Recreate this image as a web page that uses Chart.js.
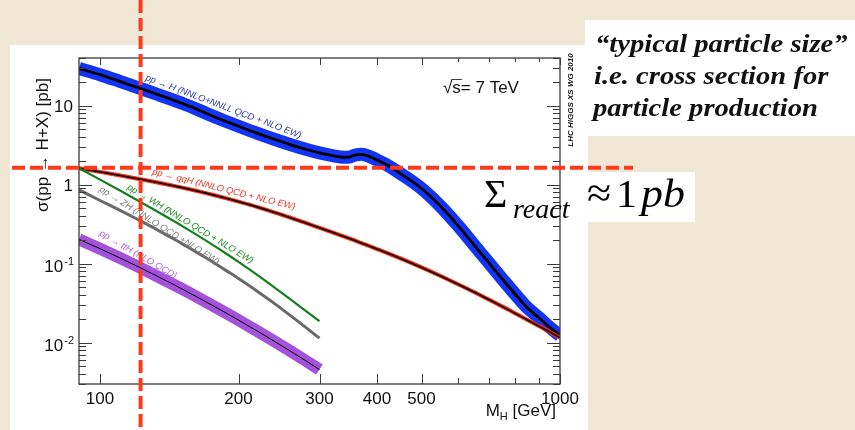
<!DOCTYPE html>
<html>
<head>
<meta charset="utf-8">
<script src="https://cdn.jsdelivr.net/npm/chart.js@4.4.0/dist/chart.umd.min.js"></script>
<style>
  html, body { margin: 0; padding: 0; background: #efe5d1; }
  canvas { display: block; }
</style>
</head>
<body>
<canvas id="xsChart" width="855" height="430"></canvas>
<script>
// SM Higgs production cross sections, sqrt(s) = 7 TeV, sigma in pb vs M_H in GeV
const massFull = [90, 100, 110, 120, 130, 140, 150, 160, 170, 180, 190, 200, 220, 240, 260, 280, 300,
  320, 340, 350, 360, 370, 380, 390, 400, 420, 450, 500, 550, 600, 650, 700, 750, 800, 850, 900, 950, 1000];
const massLow = [90, 100, 110, 120, 130, 140, 150, 160, 170, 180, 190, 200, 220, 240, 260, 280, 300];

const sigmaGGH = [29.5, 24.6, 20.4, 17.1, 14.6, 12.5, 10.8, 9.35, 8.0, 6.95, 6.15, 5.48, 4.45, 3.72, 3.19, 2.80, 2.52,
  2.33, 2.22, 2.25, 2.38, 2.42, 2.34, 2.20, 2.05, 1.78, 1.38, 0.893, 0.531, 0.303, 0.173, 0.1028, 0.0634, 0.0407,
  0.0275, 0.0207, 0.0156, 0.0123];
const sigmaQQH = [1.61, 1.450, 1.315, 1.198, 1.096, 1.005, 0.923, 0.848, 0.780, 0.718, 0.661, 0.609, 0.519, 0.443,
  0.379, 0.327, 0.284, 0.249, 0.219, 0.206, 0.194, 0.182, 0.172, 0.162, 0.153, 0.137, 0.1164, 0.0895, 0.0697,
  0.0549, 0.0438, 0.0352, 0.0286, 0.0234, 0.0194, 0.0162, 0.01364, 0.01158];
const sigmaWH = [1.61, 1.157, 0.854, 0.645, 0.496, 0.387, 0.305, 0.2433, 0.1956, 0.1581, 0.1287, 0.1054, 0.0716,
  0.0495, 0.035, 0.0253, 0.0187];
const sigmaZH = [0.860, 0.629, 0.479, 0.370, 0.290, 0.228, 0.182, 0.146, 0.1186, 0.0963, 0.0787, 0.0648, 0.0445,
  0.0310, 0.0218, 0.0156, 0.0114];
const sigmaTTH = [0.203, 0.1545, 0.1194, 0.0937, 0.0744, 0.0598, 0.0486, 0.0398, 0.0328, 0.02733, 0.02291, 0.01931,
  0.01397, 0.01031, 0.00774, 0.00591, 0.00457];

// axis labels
const xTickValues = [100, 200, 300, 400, 500, 1000];
const xTickLabels = ['100', '200', '300', '400', '500', '1000'];
const yTickValues = [0.01, 0.1, 1, 10];
const yTickLabels = ['10', '10', '1', '10'];
const yTickExponents = ['-2', '-1', '', ''];

// guide lines: light Higgs mass and ~1 pb reaction cross section
const markMass = 122.5;
const markSigma = 1.64;

const SANS = '"Liberation Sans", Arial, Helvetica, sans-serif';
const SERIF = '"Liberation Serif", "Times New Roman", serif';

// process labels written along the curves
const curveLabels = [
  { text: 'pp \u2192 H (NNLO+NNLL QCD + NLO EW)', m: 125.8, s: 22.6, angle: 20.6, color: '#2b3aa8' },
  { text: 'pp \u2192 qqH (NNLO QCD + NLO EW)', m: 130, s: 1.46, angle: 14, color: '#ee3322' },
  { text: 'pp \u2192 WH (NNLO QCD + NLO EW)', m: 115, s: 0.944, angle: 31, color: '#1f8c1f' },
  { text: 'pp \u2192 ZH (NNLO QCD +NLO EW)', m: 100, s: 0.89, angle: 32, color: '#7a7a7a' },
  { text: 'pp \u2192 ttH (NLO QCD)', m: 100, s: 0.246, angle: 30, color: '#b060e0' }
];

function points(masses, values) {
  return masses.map((m, i) => ({ x: m, y: values[i] }));
}

function curve(masses, values, color, width, order) {
  return {
    data: points(masses, values),
    borderColor: color,
    borderWidth: width,
    pointRadius: 0,
    cubicInterpolationMode: 'monotone',
    borderCapStyle: 'butt',
    borderJoinStyle: 'round',
    fill: false,
    clip: 0,
    order: order
  };
}

// text drawn slightly wider than the font's natural width
function wideText(ctx, text, x, y, sx) {
  ctx.save();
  ctx.translate(x, y);
  ctx.scale(sx, 1);
  ctx.fillText(text, 0, 0);
  ctx.restore();
}

// parchment backdrop and white panels
const paper = {
  id: 'paper',
  beforeDraw(chart) {
    const ctx = chart.ctx;
    ctx.save();
    ctx.fillStyle = '#efe6d3';
    ctx.fillRect(0, 0, chart.width, chart.height);
    ctx.fillStyle = '#ffffff';
    ctx.fillRect(10, 45, 578, 385);
    ctx.fillRect(585, 20, 270, 116);
    ctx.fillRect(585, 172, 110, 50);
    ctx.restore();
  }
};

// ROOT style frame with inward ticks, labels and texts
const axes = {
  id: 'axes',
  afterDatasetsDraw(chart) {
    const { ctx, chartArea: a, scales: { x, y } } = chart;
    ctx.save();

    ctx.strokeStyle = '#3a3a3a';
    ctx.lineWidth = 1.3;
    ctx.strokeRect(a.left, a.top, a.right - a.left, a.bottom - a.top);

    ctx.lineWidth = 1;
    ctx.beginPath();
    for (let e = -3; e <= 1; e++) {
      for (let k = 1; k <= 9; k++) {
        const v = k * Math.pow(10, e);
        if (v < y.min || v > y.max) continue;
        const py = Math.round(y.getPixelForValue(v)) + 0.5;
        const len = k === 1 ? 13 : 7;
        ctx.moveTo(a.left, py); ctx.lineTo(a.left + len, py);
        ctx.moveTo(a.right, py); ctx.lineTo(a.right - len, py);
      }
    }
    for (let m = 100; m <= 1000; m += 100) {
      const px = Math.round(x.getPixelForValue(m)) + 0.5;
      const len = (m <= 500 || m === 1000) ? 10 : 6;
      ctx.moveTo(px, a.bottom); ctx.lineTo(px, a.bottom - len);
      ctx.moveTo(px, a.top); ctx.lineTo(px, a.top + Math.round(len * 0.7));
    }
    ctx.stroke();

    // tick labels
    ctx.fillStyle = '#111';
    ctx.font = '17px ' + SANS;
    ctx.textAlign = 'center';
    ctx.textBaseline = 'alphabetic';
    xTickValues.forEach((v, i) => {
      ctx.fillText(xTickLabels[i], x.getPixelForValue(v), 403.5);
    });
    yTickValues.forEach((v, i) => {
      const py = y.getPixelForValue(v);
      const exp = yTickExponents[i];
      ctx.font = '11px ' + SANS;
      const expW = exp ? ctx.measureText(exp).width : 0;
      ctx.textAlign = 'right';
      if (exp) ctx.fillText(exp, a.left - 5, py + 1);
      ctx.font = '17px ' + SANS;
      ctx.fillText(yTickLabels[i], a.left - 6 - expW, py + (exp ? 8 : 6));
    });

    // axis titles
    ctx.save();
    ctx.translate(43, 145);
    ctx.rotate(-Math.PI / 2);
    ctx.textAlign = 'center';
    ctx.textBaseline = 'middle';
    ctx.font = '17px ' + SANS;
    ctx.fillText('\u03c3(pp \u2192 H+X) [pb]', 0, 0);
    ctx.restore();

    ctx.textAlign = 'left';
    ctx.font = '17px ' + SANS;
    const tail = ' [GeV]';
    const tailW = ctx.measureText(tail).width;
    const mW = ctx.measureText('M').width;
    ctx.font = '11px ' + SANS;
    const hW = ctx.measureText('H').width;
    const tx = 556 - tailW - hW - mW;
    ctx.font = '17px ' + SANS;
    ctx.fillText('M', tx, 416);
    ctx.font = '11px ' + SANS;
    ctx.fillText('H', tx + mW, 420);
    ctx.font = '17px ' + SANS;
    ctx.fillText(tail, tx + mW + hW, 416);

    // sqrt(s) = 7 TeV
    ctx.font = '17px ' + SANS;
    const rootW = ctx.measureText('\u221a').width;
    const sW = ctx.measureText('s').width;
    ctx.fillText('\u221as= 7 TeV', 443, 93);
    ctx.beginPath();
    ctx.lineWidth = 1;
    ctx.moveTo(443 + rootW - 1, 79.5);
    ctx.lineTo(443 + rootW + sW + 1, 79.5);
    ctx.stroke();

    // working group tag
    ctx.save();
    ctx.translate(571, 100);
    ctx.rotate(-Math.PI / 2);
    ctx.textAlign = 'center';
    ctx.textBaseline = 'middle';
    ctx.font = 'italic bold 8px ' + SANS;
    ctx.fillText('LHC HIGGS XS WG 2010', 0, 0);
    ctx.restore();

    // process labels
    ctx.font = 'italic 9.3px ' + SANS;
    ctx.textAlign = 'left';
    ctx.textBaseline = 'middle';
    curveLabels.forEach(l => {
      ctx.save();
      ctx.translate(x.getPixelForValue(l.m), y.getPixelForValue(l.s));
      ctx.rotate(l.angle * Math.PI / 180);
      ctx.fillStyle = l.color;
      ctx.fillText(l.text, 0, 0);
      ctx.restore();
    });

    ctx.restore();
  },
  afterDraw(chart) {
    const { ctx, scales: { x, y } } = chart;
    ctx.save();
    ctx.fillStyle = '#111';
    ctx.textBaseline = 'alphabetic';
    ctx.textAlign = 'left';

    // side notes
    ctx.font = 'italic bold 26px ' + SERIF;
    wideText(ctx, '\u201ctypical particle size\u201d', 595, 52, 1.1);
    wideText(ctx, 'i.e. cross section for', 594, 84, 1.1);
    wideText(ctx, 'particle production', 593, 116, 1.1);

    ctx.fillStyle = '#000';
    ctx.font = '40px ' + SERIF;
    ctx.fillText('\u03a3', 484, 207);
    ctx.font = 'italic 28px ' + SERIF;
    ctx.fillText('react', 513, 218);
    ctx.font = '42px ' + SERIF;
    wideText(ctx, '\u2248', 587, 207, 1.05);
    ctx.font = '40px ' + SERIF;
    wideText(ctx, '1', 616, 207, 1.05);
    ctx.font = 'italic 40px ' + SERIF;
    wideText(ctx, 'pb', 641, 207, 1.1);

    // dashed guides
    ctx.strokeStyle = '#ff3a1a';
    ctx.lineWidth = 4;
    ctx.setLineDash([13, 5]);
    const gy = y.getPixelForValue(markSigma);
    const gx = x.getPixelForValue(markMass);
    ctx.beginPath();
    ctx.moveTo(12, gy);
    ctx.lineTo(633, gy);
    ctx.stroke();
    ctx.beginPath();
    ctx.moveTo(gx, 0);
    ctx.lineTo(gx, chart.height);
    ctx.stroke();
    ctx.restore();
  }
};

const xsChart = new Chart(document.getElementById('xsChart'), {
  type: 'line',
  data: {
    datasets: [
      curve(massLow, sigmaTTH, '#000000', 1, 1),
      curve(massLow, sigmaTTH, '#a452dc', 12, 2),
      curve(massLow, sigmaZH, '#6a6a6a', 3, 3),
      curve(massLow, sigmaWH, '#12801a', 2.2, 4),
      curve(massFull, sigmaQQH, '#000000', 1.6, 5),
      curve(massFull, sigmaQQH, '#ff2a10', 4, 6),
      curve(massFull, sigmaGGH, '#000000', 2.8, 7),
      curve(massFull, sigmaGGH, '#1434f5', 13, 8)
    ]
  },
  options: {
    responsive: false,
    animation: false,
    events: [],
    layout: { padding: { left: 79, right: 295, top: 58, bottom: 46 } },
    plugins: { legend: { display: false }, tooltip: { enabled: false } },
    scales: {
      x: { type: 'logarithmic', min: 90, max: 1000, display: false },
      y: { type: 'logarithmic', min: 0.003, max: 40, display: false }
    }
  },
  plugins: [paper, axes]
});
</script>
</body>
</html>
